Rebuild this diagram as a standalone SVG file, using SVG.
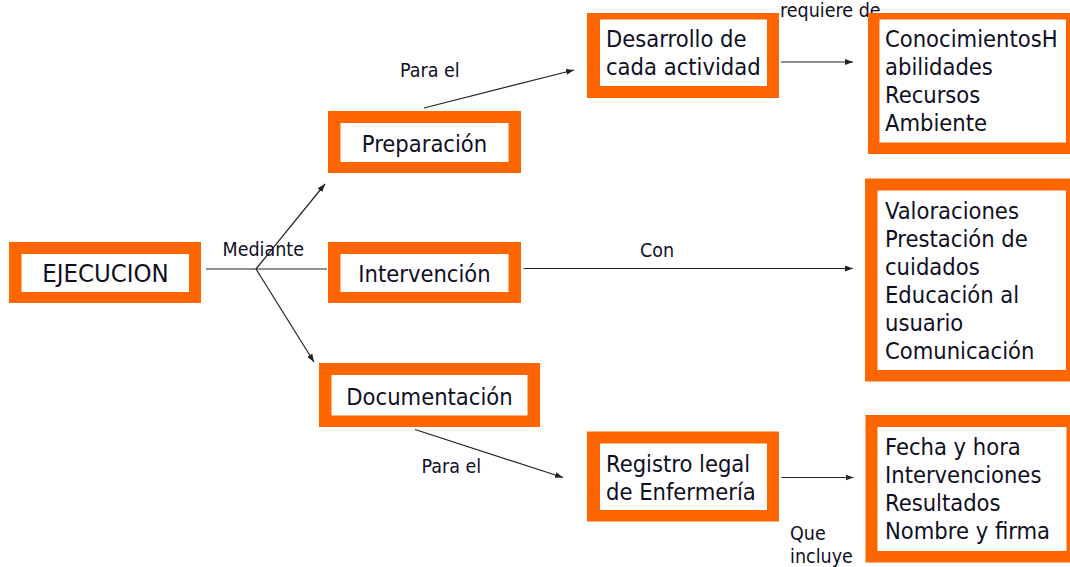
<svg xmlns="http://www.w3.org/2000/svg" width="1070" height="567" viewBox="0 0 1070 567">
  <style>
    .frame { fill: #FF6600; }
    .inner { fill: #FFFFFF; }
    .t { font-family: "DejaVu Sans Condensed", "DejaVu Sans", sans-serif; font-stretch: condensed; font-size: 23.5px; fill: #0f0f24; }
    .c { text-anchor: middle; }
    .big { font-size: 25.5px; }
    .lbl { font-family: "DejaVu Sans Condensed", "DejaVu Sans", sans-serif; font-stretch: condensed; font-size: 19.5px; fill: #0f0f24; }
    .ln { stroke: #222; stroke-width: 1.2; fill: none; }
    .arr { marker-end: url(#ah); }
  </style>
  <defs>
    <marker id="ah" viewBox="0 0 8 6" refX="8" refY="3" markerWidth="8" markerHeight="6" markerUnits="userSpaceOnUse" orient="auto">
      <path d="M0,0 L8,3 L0,6 Z" fill="#222"/>
    </marker>
  </defs>
  <rect width="1070" height="567" fill="#FFFFFF"/>

  <g id="connectors">
    <line class="ln" x1="206" y1="269" x2="327" y2="269"/>
    <line class="ln arr" x1="256" y1="269" x2="325" y2="184"/>
    <line class="ln arr" x1="256" y1="269" x2="314" y2="362"/>
    <line class="ln arr" x1="424" y1="108" x2="574" y2="70"/>
    <line class="ln arr" x1="781" y1="62" x2="853" y2="62"/>
    <line class="ln arr" x1="523.5" y1="268.5" x2="853" y2="268.5"/>
    <line class="ln arr" x1="415" y1="429.5" x2="563" y2="477.5"/>
    <line class="ln arr" x1="781.5" y1="477.5" x2="853.5" y2="477.5"/>
  </g>

  <g id="labels">
    <text class="lbl" x="400" y="77">Para el</text>
    <text class="lbl" x="222.5" y="256">Mediante</text>
    <text class="lbl" x="640" y="257">Con</text>
    <text class="lbl" x="421.5" y="473">Para el</text>
    <text class="lbl" x="780" y="17">requiere de</text>
    <text class="lbl" x="790" y="540">Que</text>
    <text class="lbl" x="790" y="563">incluye</text>
  </g>

  <g id="node-ejecucion">
    <rect class="frame" x="9" y="242" width="192" height="61"/>
    <rect class="inner" x="21.5" y="254" width="167.5" height="38"/>
    <text class="t c big" x="105.5" y="282">EJECUCION</text>
  </g>

  <g id="node-preparacion">
    <rect class="frame" x="328" y="111" width="193" height="62"/>
    <rect class="inner" x="340.5" y="123" width="168" height="39"/>
    <text class="t c" x="424.5" y="151.5">Preparación</text>
  </g>

  <g id="node-intervencion">
    <rect class="frame" x="328" y="242" width="193" height="61"/>
    <rect class="inner" x="340.5" y="254" width="168" height="38"/>
    <text class="t c" x="424.5" y="282">Intervención</text>
  </g>

  <g id="node-documentacion">
    <rect class="frame" x="319" y="363" width="221" height="64"/>
    <rect class="inner" x="331.5" y="375" width="196" height="40.5"/>
    <text class="t c" x="429.5" y="405">Documentación</text>
  </g>

  <g id="node-desarrollo">
    <rect class="frame" x="587" y="13" width="192" height="85"/>
    <rect class="inner" x="600" y="19.5" width="167" height="66.5"/>
    <text class="t" x="606" y="47">Desarrollo de</text>
    <text class="t" x="606" y="74.5">cada actividad</text>
  </g>

  <g id="node-conocimientos">
    <rect class="frame" x="868" y="13" width="202" height="141"/>
    <rect class="inner" x="879.5" y="19.5" width="186.5" height="123"/>
    <text class="t" x="885" y="47">ConocimientosH</text>
    <text class="t" x="885" y="75">abilidades</text>
    <text class="t" x="885" y="103">Recursos</text>
    <text class="t" x="885" y="131">Ambiente</text>
  </g>

  <g id="node-valoraciones">
    <rect class="frame" x="865" y="178.5" width="205" height="203"/>
    <rect class="inner" x="877.5" y="190.5" width="188.5" height="179.5"/>
    <text class="t" x="885" y="219">Valoraciones</text>
    <text class="t" x="885" y="247">Prestación de</text>
    <text class="t" x="885" y="275">cuidados</text>
    <text class="t" x="885" y="303">Educación al</text>
    <text class="t" x="885" y="331">usuario</text>
    <text class="t" x="885" y="359">Comunicación</text>
  </g>

  <g id="node-registro">
    <rect class="frame" x="587" y="431.5" width="192" height="90"/>
    <rect class="inner" x="600" y="443.5" width="167" height="66.5"/>
    <text class="t" x="606" y="472">Registro legal</text>
    <text class="t" x="606" y="500">de Enfermería</text>
  </g>

  <g id="node-fecha">
    <rect class="frame" x="865.5" y="415" width="204.5" height="147.5"/>
    <rect class="inner" x="877.5" y="427" width="189" height="124"/>
    <text class="t" x="885" y="455">Fecha y hora</text>
    <text class="t" x="885" y="483">Intervenciones</text>
    <text class="t" x="885" y="511">Resultados</text>
    <text class="t" x="885" y="539">Nombre y firma</text>
  </g>
</svg>
